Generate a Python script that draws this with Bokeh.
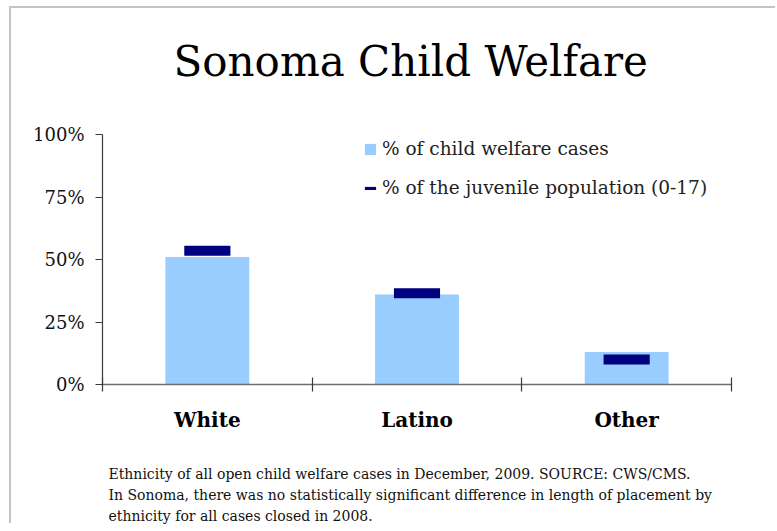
import numpy as np
from bokeh.plotting import figure
from bokeh.layouts import column
from bokeh.models import (Range1d, FixedTicker, NumeralTickFormatter, Legend, LegendItem,
                          ColumnDataSource, Label)
from bokeh.embed import file_html
from bokeh.resources import INLINE

# ---- data ----
categories = ["White", "Latino", "Other"]
welfare_cases = [0.51, 0.36, 0.13]           # % of child welfare cases (bars)
juvenile_population = [0.535, 0.365, 0.10]   # % of the juvenile population (markers)
y_ticks = [0, 0.25, 0.5, 0.75, 1.0]

title_text = "Sonoma Child Welfare"
legend_cases = "% of child welfare cases"
legend_population = "% of the juvenile population (0-17)"
footnote_lines = [
    "Ethnicity of all open child welfare cases in December, 2009.  SOURCE:  CWS/CMS.",
    "In Sonoma, there was no statistically significant difference in length of placement by",
    "ethnicity for all cases closed in 2008.",
]

# ---- layout constants (page pixels) ----
W, H = 777, 531
MARGIN_L, MARGIN_T, BORDER = 9, 6, 2
OX, OY = MARGIN_L + BORDER, MARGIN_T + BORDER      # where the canvases start on the page
LEFT, RIGHT, TOP, BOTTOM = 102, 731, 134, 384      # 0..100% plot area on the page
MAIN_BOTTOM = 440                                   # page y where the chart canvas ends
NOTE_BOTTOM = 525                                   # page y where the footnote canvas ends
CW = W - OX                                         # canvas width (reaches the page's right edge)
SERIF = "DejaVu Serif"
BAR_COLOR = "#99CCFF"
MARK_COLOR = "#000080"
LABEL_SHIFT = 0.38                                  # em: Label "alphabetic" anchor correction

n = len(categories)
x_pos = np.arange(n) + 0.5
source = ColumnDataSource(dict(x=x_pos, cat=categories, cases=welfare_cases, pop=juvenile_population))

px_per_unit = BOTTOM - TOP
y_top = (BOTTOM - OY) / px_per_unit   # frame extends up to the canvas top (room for the title)

p = figure(width=CW, height=MAIN_BOTTOM - OY, x_range=Range1d(0, n), y_range=Range1d(0, y_top),
           output_backend="svg", toolbar_location=None,
           min_border_left=LEFT - OX, min_border_right=OX + CW - RIGHT,
           min_border_top=0, min_border_bottom=MAIN_BOTTOM - BOTTOM)
p.xgrid.visible = False
p.ygrid.visible = False
p.outline_line_color = None
p.background_fill_color = "white"
p.border_fill_color = "white"


def px_x(px):
    return (px - LEFT) / (RIGHT - LEFT) * n


def px_y(py):
    return (BOTTOM - py) / px_per_unit


# title (baseline at page y = 77)
title_size = 42
p.add_layout(Label(x=px_x(173), y=px_y(77 - LABEL_SHIFT * title_size), text=title_text,
                   text_align="left", text_baseline="alphabetic", text_font=SERIF,
                   text_font_size=f"{title_size}px", text_color="#000000"))

# y axis
ya = p.yaxis[0]
ya.bounds = (0, 1)
ya.ticker = FixedTicker(ticks=y_ticks, minor_ticks=[])
ya.formatter = NumeralTickFormatter(format="0%")
ya.major_tick_in = 0
ya.major_tick_out = 7
ya.minor_tick_in = 0
ya.minor_tick_out = 0
ya.axis_line_color = "#3a3a3a"
ya.major_tick_line_color = "#3a3a3a"
ya.axis_line_width = 1.2
ya.major_tick_line_width = 1.2
ya.major_label_standoff = 11
ya.major_label_text_font = SERIF
ya.major_label_text_font_size = "18px"
ya.major_label_text_color = "#111111"

# x axis: labels at category centres, tick marks at category boundaries
xa = p.xaxis[0]
xa.ticker = FixedTicker(ticks=list(x_pos), minor_ticks=list(range(n + 1)))
xa.major_label_overrides = {float(x): c for x, c in zip(x_pos, categories)}
xa.major_tick_in = 0
xa.major_tick_out = 0
xa.minor_tick_in = 7
xa.minor_tick_out = 7
xa.minor_tick_line_color = "#3a3a3a"
xa.minor_tick_line_width = 1.2
xa.axis_line_color = "#6e6e6e"
xa.axis_line_width = 1.5
xa.major_label_standoff = 16
xa.major_label_text_font = SERIF
xa.major_label_text_font_style = "bold"
xa.major_label_text_font_size = "20px"
xa.major_label_text_color = "#000000"

# glyphs
bars = p.vbar(x="x", top="cases", width=0.4, source=source,
              fill_color=BAR_COLOR, line_color=None)
marks = p.rect(x="x", y="pop", width=0.22, height=10, height_units="screen",
               source=source, fill_color=MARK_COLOR, line_color=None)

legend_kw = dict(glyph_width=14, label_standoff=5, spacing=20, padding=0, margin=0,
                 border_line_color=None, background_fill_alpha=0,
                 label_text_font=SERIF, label_text_font_size="18.5px",
                 label_text_color="#222222")
p.add_layout(Legend(items=[LegendItem(label=legend_cases, renderers=[bars])],
                    location=(261, 225), glyph_height=14, **legend_kw))
p.add_layout(Legend(items=[LegendItem(label=legend_population, renderers=[marks])],
                    location=(261, 186), glyph_height=4, **legend_kw))

# footnote canvas: its frame is aligned with the chart frame (LEFT..RIGHT), y downward
note_h = NOTE_BOTTOM - MAIN_BOTTOM
note = figure(width=CW, height=note_h, x_range=Range1d(LEFT, RIGHT), y_range=Range1d(note_h, 0),
              output_backend="svg", toolbar_location=None,
              x_axis_location=None, y_axis_location=None,
              min_border_left=0, min_border_right=0, min_border_top=0, min_border_bottom=0)
note.grid.visible = False
note.outline_line_color = None
note.background_fill_color = "white"
note.border_fill_color = "white"
note_size = 14
for i, line in enumerate(footnote_lines):
    note.add_layout(Label(x=108, y=479 + 21 * i - MAIN_BOTTOM - LABEL_SHIFT * note_size,
                          text=line, text_align="left", text_baseline="alphabetic",
                          text_font=SERIF, text_font_size=f"{note_size}px",
                          text_color="#111111"))

page = column(p, note, spacing=0,
              styles={"position": "relative", "left": f"{OX}px", "top": f"{OY}px",
                      "box-shadow": f"-{BORDER}px -{BORDER}px 0 0 #c4c4c4"})

open("out.html", "w").write(file_html(page, INLINE))
